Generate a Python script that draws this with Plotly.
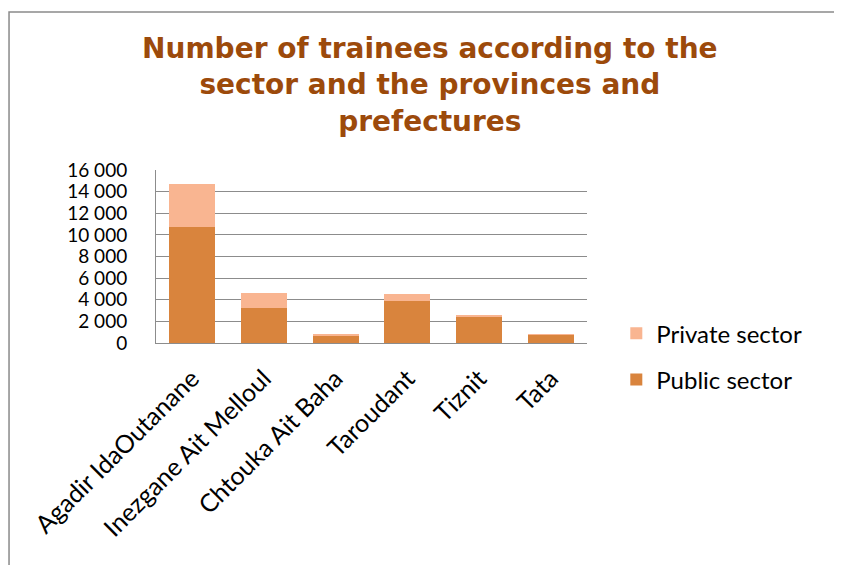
import plotly.graph_objects as go

# Provinces / prefectures
provinces = ["Agadir IdaOutanane", "Inezgane Ait Melloul", "Chtouka Ait Baha",
             "Taroudant", "Tiznit", "Tata"]
public_sector = [10700, 3250, 670, 3850, 2430, 750]
private_sector = [4020, 1390, 190, 700, 120, 30]

COLOR_PUBLIC = "#D9843D"
COLOR_PRIVATE = "#F9B591"
COLOR_TITLE = "#9C4A0B"
COLOR_GRID = "#8C8C8C"
FONT = "Lato, 'Open Sans', sans-serif"

fig = go.Figure()
fig.add_trace(go.Bar(
    x=provinces, y=public_sector, name="Public sector",
    marker=dict(color=COLOR_PUBLIC, line=dict(width=0)),
    legendgroup="pub", legendrank=2,
))
fig.add_trace(go.Bar(
    x=provinces, y=private_sector, name="Private sector",
    marker=dict(color=COLOR_PRIVATE, line=dict(width=0)),
    legendgroup="priv", legendrank=1,
))

# la page a une marge de 8 px -> tout est décalé de 8 px
fig.update_layout(
    width=842, height=565,
    barmode="stack", bargap=0.36,
    margin=dict(l=148, r=263, t=162, b=230),
    paper_bgcolor="white", plot_bgcolor="white",
    separators=". ",
    font=dict(family=FONT, color="black", size=20),
    title=dict(
        text="Number of trainees according to the<br>sector and the provinces and<br>prefectures",
        font=dict(family="'DejaVu Sans', sans-serif", size=28, color=COLOR_TITLE,
                  weight="bold"),
        x=0.501, xanchor="center", xref="container",
        y=0.912, yanchor="top", yref="container",
    ),
    legend=dict(
        x=1.068, xanchor="left", y=0.184, yanchor="top",
        traceorder="grouped", tracegroupgap=12,
        font=dict(family=FONT, size=24, color="black"),
        bgcolor="rgba(0,0,0,0)",
    ),
    # cadre gris autour du graphique
    shapes=[dict(
        type="rect", xref="paper", yref="paper",
        x0=-0.341, x1=1.582, y0=-1.4, y1=1.913,
        line=dict(color="#8A8A8A", width=1.5), fillcolor="rgba(0,0,0,0)",
    )],
)
fig.update_xaxes(
    showline=True, linecolor=COLOR_GRID, linewidth=1,
    tickangle=-45, tickfont=dict(family=FONT, size=25),
    ticklabelstandoff=10,
    automargin=False, showgrid=False,
)
fig.update_yaxes(
    range=[0, 16000], dtick=2000, tickformat=",d",
    showline=True, linecolor=COLOR_GRID, linewidth=1,
    showgrid=True, gridcolor=COLOR_GRID, gridwidth=1,
    tickfont=dict(family=FONT, size=19),
    ticklabelstandoff=24, automargin=False, zeroline=False,
)

fig.write_html("out.html")
